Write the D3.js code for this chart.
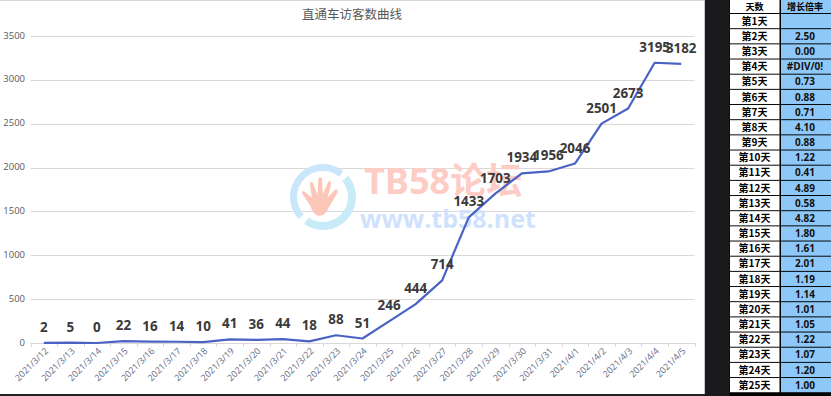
<!DOCTYPE html>
<html><head><meta charset="utf-8">
<script src="https://cdn.jsdelivr.net/npm/d3@7/dist/d3.min.js"></script>
<style>html,body{margin:0;padding:0;background:#fff;overflow:hidden}svg{display:block}</style>
</head><body><svg id="c" width="831" height="396"></svg>
<script>
const title = "直通车访客数曲线";
const dates = ["2021/3/12","2021/3/13","2021/3/14","2021/3/15","2021/3/16","2021/3/17","2021/3/18","2021/3/19","2021/3/20","2021/3/21","2021/3/22","2021/3/23","2021/3/24","2021/3/25","2021/3/26","2021/3/27","2021/3/28","2021/3/29","2021/3/30","2021/3/31","2021/4/1","2021/4/2","2021/4/3","2021/4/4","2021/4/5"];
const visitors = [2,5,0,22,16,14,10,41,36,44,18,88,51,246,444,714,1433,1703,1934,1956,2046,2501,2673,3195,3182];
const yTicks = [0,500,1000,1500,2000,2500,3000,3500];
const tableHead = ["天数","增长倍率"];
const days = ["第1天","第2天","第3天","第4天","第5天","第6天","第7天","第8天","第9天","第10天","第11天","第12天","第13天","第14天","第15天","第16天","第17天","第18天","第19天","第20天","第21天","第22天","第23天","第24天","第25天"];
const rates = ["","2.50","0.00","#DIV/0!","0.73","0.88","0.71","4.10","0.88","1.22","0.41","4.89","0.58","4.82","1.80","1.61","2.01","1.19","1.14","1.01","1.05","1.22","1.07","1.20","1.00"];
const handPath = "M-13 9 L-21 -3 Q-23 -7 -19 -6 L-11 1 L-13 -14 Q-13 -18 -10 -16 L-5 -2 L-4 -20 Q-2 -23 0 -20 L1 -3 L7 -17 Q10 -18 10 -14 L6 1 L14 -8 Q18 -9 17 -5 L7 12 Q3 22 -5 20 Q-10 18 -13 9 Z";

const CJK = "'Noto Sans CJK SC','Noto Sans',sans-serif";
const svg = d3.select("#c");
const x = d3.scaleBand().domain(dates).range([30.5, 694.5]);
const y = d3.scaleLinear().domain([0, 3500]).range([343, 36]);
const cx = d => x(d) + x.bandwidth() / 2;

// page frame
svg.append("rect").attr("width",831).attr("height",396).attr("fill","#fff");
svg.append("rect").attr("width",704).attr("height",1).attr("fill","#d9d9d9");
svg.append("rect").attr("x",704).attr("width",127).attr("height",396).attr("fill","#1a1a1c");
svg.append("rect").attr("x",704).attr("width",1).attr("height",394).attr("fill","#c8c8c8");
svg.append("rect").attr("y",394).attr("width",704).attr("height",2).attr("fill","#222");

// gridlines
svg.append("g").selectAll("line").data(yTicks).join("line")
  .attr("x1",30.5).attr("x2",694.5).attr("y1",d=>Math.round(y(d))+.5).attr("y2",d=>Math.round(y(d))+.5)
  .attr("stroke","#d9d9d9").attr("stroke-width",1);

// watermark
const wm = svg.append("g");
const ring = d3.arc();
wm.append("path").attr("transform","translate(323,197)").attr("fill","#c8ebf8")
  .attr("d",ring({innerRadius:25,outerRadius:33,startAngle:50*Math.PI/180,endAngle:215*Math.PI/180}));
wm.append("path").attr("transform","translate(323,197)").attr("fill","#c9e6fb")
  .attr("d",ring({innerRadius:26,outerRadius:33,startAngle:228*Math.PI/180,endAngle:398*Math.PI/180}));
wm.append("path").attr("d",handPath).attr("transform","translate(322,197) scale(.92)").attr("fill","#fcc6b8");
wm.append("text").attr("x",364).attr("y",194).attr("font-family","'Open Sans',"+CJK).attr("font-weight",700).attr("font-size",36)
  .attr("fill","#fdccc5").text("TB58论坛");
wm.append("text").attr("x",360).attr("y",228).attr("font-family","'Open Sans',sans-serif").attr("font-weight",700).attr("font-size",25)
  .attr("fill","#cfe2fd").text("www.tb58.net");

// title
svg.append("text").attr("x",352).attr("y",18.5).attr("text-anchor","middle").attr("font-family",CJK).attr("font-size",12.5).attr("fill","#595959").text(title);

// y axis labels
svg.append("g").selectAll("text").data(yTicks).join("text")
  .attr("x",25).attr("y",d=>y(d)+2.5).attr("text-anchor","end").attr("font-family","'Open Sans',sans-serif").attr("font-size",9.5).attr("fill","#595959").text(d=>d);

// x axis
const gx = svg.append("g").attr("transform","translate(0,343.5)")
  .call(d3.axisBottom(x).tickSize(0).tickPadding(0));
gx.select(".domain").remove();
gx.selectAll(".tick text").attr("font-family","'Open Sans',sans-serif").attr("font-size",9).attr("fill","#5f6a88")
  .attr("text-anchor","end").attr("dy",0).attr("transform","translate(5,8) rotate(-45)");
const edges = dates.map(d=>x(d)).concat([x.range()[1]]);
svg.append("line").attr("x1",30.5).attr("x2",694.5).attr("y1",343.5).attr("y2",343.5).attr("stroke","#d9d9d9");
svg.append("g").selectAll("line").data(edges).join("line")
  .attr("x1",d=>Math.round(d)+.5).attr("x2",d=>Math.round(d)+.5).attr("y1",343).attr("y2",347).attr("stroke","#d9d9d9");

// line
const line = d3.line().x((d,i)=>cx(dates[i])).y(d=>y(d));
svg.append("path").attr("d",line(visitors)).attr("fill","none").attr("stroke","#4a62c4").attr("stroke-width",2.2).attr("stroke-linejoin","round");

// labels
svg.append("g").selectAll("text").data(visitors).join("text")
  .attr("x",(d,i)=>cx(dates[i])).attr("y",d=>y(d)-11).attr("text-anchor","middle")
  .attr("font-family","'Open Sans',sans-serif").attr("font-weight",700).attr("font-size",13.4).attr("fill","#3a3a3a").text(d=>d);

// table
const rowY = d3.scaleLinear().domain([0,25]).range([13.5,392.7]);
const tbl = svg.append("g");
tbl.append("rect").attr("x",729.5).attr("y",-1).attr("width",101.5).attr("height",398).attr("fill","#000");
tbl.selectAll(".d").data(days).join("rect").attr("class","d").attr("x",730).attr("y",(d,i)=>rowY(i)+.5).attr("width",49.5).attr("height",14.2).attr("fill","#fff");
tbl.selectAll(".r").data(rates).join("rect").attr("class","r").attr("x",781).attr("y",(d,i)=>rowY(i)+.5).attr("width",50).attr("height",14.2).attr("fill","#8ec8f8");
tbl.append("rect").attr("x",730).attr("y",0).attr("width",49.5).attr("height",13).attr("fill","#fff");
tbl.append("rect").attr("x",781).attr("y",0).attr("width",50).attr("height",13).attr("fill","#8ec8f8");
tbl.selectAll(".h").data(tableHead).join("text").attr("class","h").attr("x",(d,i)=>i?805:754.5).attr("y",9.5).attr("text-anchor","middle")
  .attr("font-family",CJK).attr("font-weight",700).attr("font-size",9).attr("fill","#000").text(d=>d);
tbl.selectAll(".dt").data(days).join("text").attr("class","dt").attr("x",754.5).attr("y",(d,i)=>rowY(i)+11.3).attr("text-anchor","middle")
  .attr("font-family",CJK).attr("font-weight",700).attr("font-size",10).attr("fill","#000").text(d=>d);
tbl.selectAll(".rt").data(rates).join("text").attr("class","rt").attr("x",805).attr("y",(d,i)=>rowY(i)+11.3).attr("text-anchor","middle")
  .attr("font-family","'Open Sans',sans-serif").attr("font-weight",700).attr("font-size",10).attr("fill","#111").text(d=>d);
</script></body></html>
